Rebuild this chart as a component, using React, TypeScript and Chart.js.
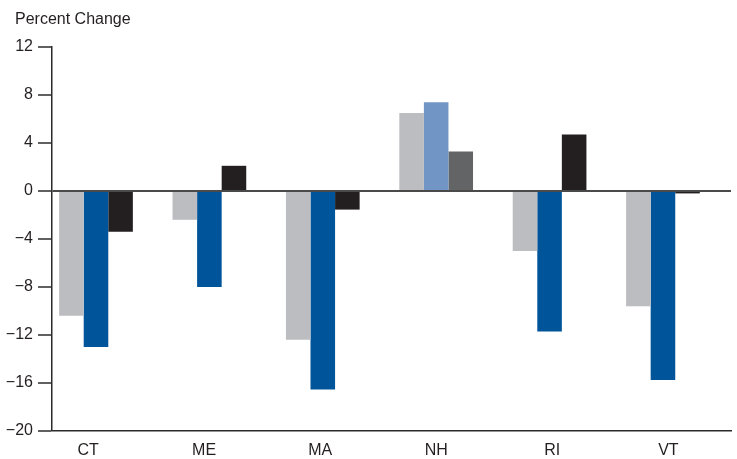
import React, { useEffect, useRef } from "react";
import { Chart, registerables } from "chart.js";

Chart.register(...registerables);

const categories = ["CT", "ME", "MA", "NH", "RI", "VT"];
const series1 = [-10.4, -2.4, -12.4, 6.5, -5.0, -9.6];
const series2 = [-13.0, -8.0, -16.55, 7.4, -11.7, -15.75];
const series3 = [-3.4, 2.1, -1.55, 3.3, 4.7, -0.2];
const yTicks = [-20, -16, -12, -8, -4, 0, 4, 8, 12];

const FONT = '"Liberation Sans", Arial, Helvetica, sans-serif';
const TEXT = "#231F20";

const titlePlugin = {
  id: "percentTitle",
  afterDraw(chart: any) {
    const ctx = chart.ctx;
    ctx.save();
    ctx.font = `16px ${FONT}`;
    ctx.fillStyle = TEXT;
    ctx.textAlign = "left";
    ctx.textBaseline = "middle";
    ctx.fillText("Percent Change", 15, 20);
    ctx.restore();
  },
};

export default function App() {
  const ref = useRef<HTMLCanvasElement | null>(null);

  useEffect(() => {
    if (!ref.current) return;
    const toXY = (arr: number[]) => arr.map((v, i) => ({ x: i, y: v }));
    const chart = new Chart(ref.current, {
      type: "bar",
      data: {
        datasets: [
          {
            label: "s1",
            data: toXY(series1) as any,
            backgroundColor: categories.map(() => "#BCBDC1"),
            categoryPercentage: 0.65,
            barPercentage: 1,
          },
          {
            label: "s2",
            data: toXY(series2) as any,
            backgroundColor: categories.map((c) => (c === "NH" ? "#7195C4" : "#00549A")),
            categoryPercentage: 0.65,
            barPercentage: 1,
          },
          {
            label: "s3",
            data: toXY(series3) as any,
            backgroundColor: categories.map((c) => (c === "NH" ? "#636466" : "#231F20")),
            categoryPercentage: 0.65,
            barPercentage: 1,
          },
        ],
      },
      options: {
        animation: false,
        responsive: false,
        maintainAspectRatio: false,
        layout: { padding: { top: 47, right: 6, left: 0, bottom: 0 } },
        plugins: {
          legend: { display: false },
          tooltip: { enabled: false },
          title: { display: false },
        },
        scales: {
          x: {
            type: "linear",
            offset: false,
            min: -0.388,
            max: 5.6,
            afterBuildTicks: (scale: any) => {
              scale.ticks = categories.map((_, i) => ({ value: -0.07 + i * 1.0235 }));
            },
            afterFit: (scale: any) => {
              scale.height = 28;
            },
            grid: { display: false, drawTicks: false, offset: false },
            border: { display: true, color: "#2b2b2b", width: 1.5 },
            ticks: {
              callback: (_v: any, i: number) => categories[i],
              font: { size: 16, family: FONT },
              color: TEXT,
              padding: 10,
              maxRotation: 0,
              autoSkip: false,
            },
          },
          y: {
            min: -20,
            max: 12,
            afterBuildTicks: (scale: any) => {
              scale.ticks = yTicks.map((v) => ({ value: v }));
            },
            afterFit: (scale: any) => {
              scale.width = 52;
            },
            grid: {
              drawOnChartArea: true,
              drawTicks: true,
              tickLength: 14,
              tickColor: "#2b2b2b",
              tickWidth: 1.5,
              color: (ctx: any) => (ctx.tick && ctx.tick.value === 0 ? "#4a4a4a" : "rgba(0,0,0,0)"),
              lineWidth: (ctx: any) => (ctx.tick && ctx.tick.value === 0 ? 2 : 0),
            },
            border: { display: true, color: "#2b2b2b", width: 1.5 },
            ticks: {
              callback: (v: any) => (Number(v) < 0 ? "\u2212" + Math.abs(Number(v)) : String(v)),
              font: { size: 16, family: FONT },
              color: TEXT,
              padding: 5,
            },
          },
        },
      },
      plugins: [titlePlugin],
    });
    return () => chart.destroy();
  }, []);

  return (
    <div style={{ position: "fixed", left: 0, top: 0, width: 737, height: 459, background: "#fff" }}>
      <canvas ref={ref} width={737} height={459} style={{ width: 737, height: 459, display: "block" }} />
    </div>
  );
}
